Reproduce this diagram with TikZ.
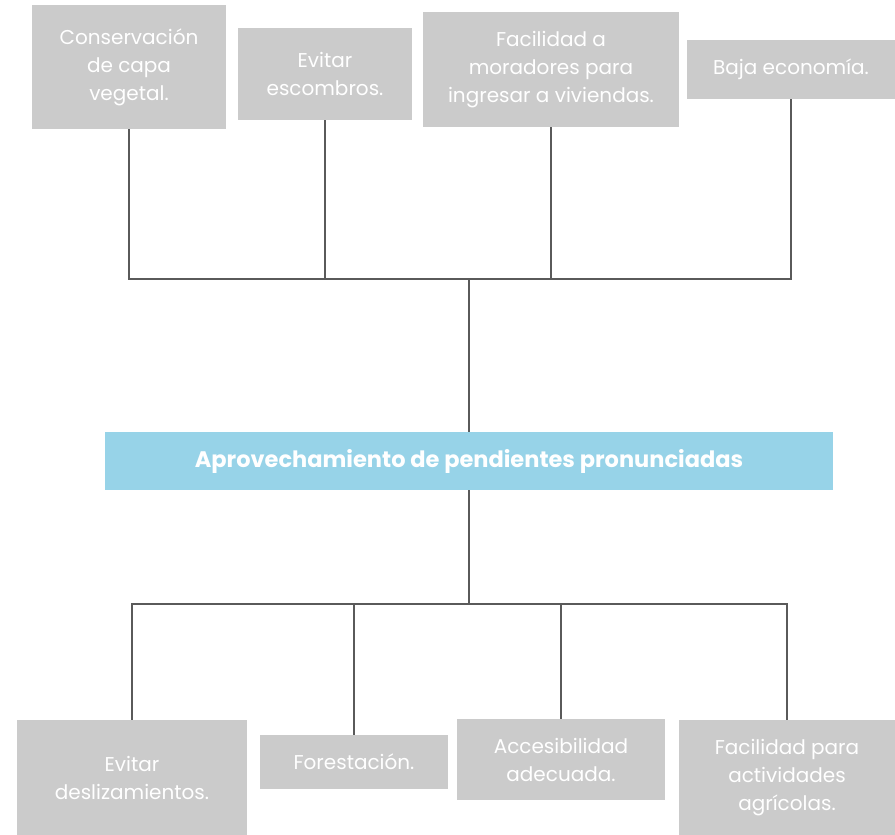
\documentclass[tikz,border=0pt]{standalone}
\usepackage{fontspec}
\setmainfont{Poppins}
\usepackage{tikz}
\usetikzlibrary{positioning,calc}
\definecolor{boxgray}{RGB}{203,203,203}
\definecolor{mainblue}{RGB}{151,211,232}
\definecolor{linkgray}{RGB}{90,90,90}

\begin{document}
\begin{tikzpicture}[x=1pt,y=-1pt,
    leaf/.style={fill=boxgray,draw=none,align=center,inner sep=0pt,
                 text=white,font=\fontsize{20}{28}\selectfont},
    mainbox/.style={fill=mainblue,draw=none,align=center,inner sep=0pt,
                 text=white,font=\fontsize{22.5}{26}\selectfont\bfseries,
                 minimum width=728pt,minimum height=58pt},
    link/.style={draw=linkgray,line width=1.6pt}
  ]
    \useasboundingbox (0,0) rectangle (895,835);

    % upper row
    \node[leaf,minimum width=194pt,minimum height=124pt] (cons) at (129,67)
      {Conservación\\de capa\\vegetal.};
    \node[leaf,minimum width=174pt,minimum height=92pt] (escom) at (325,74)
      {Evitar\\escombros.};
    \node[leaf,minimum width=256pt,minimum height=115pt] (morad) at (551,69.5)
      {Facilidad a\\moradores para\\ingresar a viviendas.};
    \node[leaf,minimum width=208pt,minimum height=59pt] (econ) at (791,69.5)
      {Baja economía.};

    % central topic
    \node[mainbox] (main) at (469,461) {Aprovechamiento de pendientes pronunciadas};

    % lower row
    \node[leaf,minimum width=230pt,minimum height=115pt] (desl) at (132,777.5)
      {Evitar\\deslizamientos.};
    \node[leaf,minimum width=188pt,minimum height=54pt] (fores) at (354,762)
      {Forestación.};
    \node[leaf,minimum width=208pt,minimum height=81pt] (acces) at (561,759.5)
      {Accesibilidad\\adecuada.};
    \node[leaf,minimum width=216pt,minimum height=115pt] (agri) at (787,777.5)
      {Facilidad para\\actividades\\agrícolas.};

    \coordinate (topjoin) at (469,279);
    \coordinate (botjoin) at (469,604);

    \foreach \n in {cons,escom,morad,econ}
      \draw[link] (\n.south) |- (topjoin);
    \draw[link] (topjoin) -- (main.north);
    \draw[link] (main.south) -- (botjoin);
    \foreach \n in {desl,fores,acces,agri}
      \draw[link] (\n.north) |- (botjoin);
  \end{tikzpicture}
\end{document}
